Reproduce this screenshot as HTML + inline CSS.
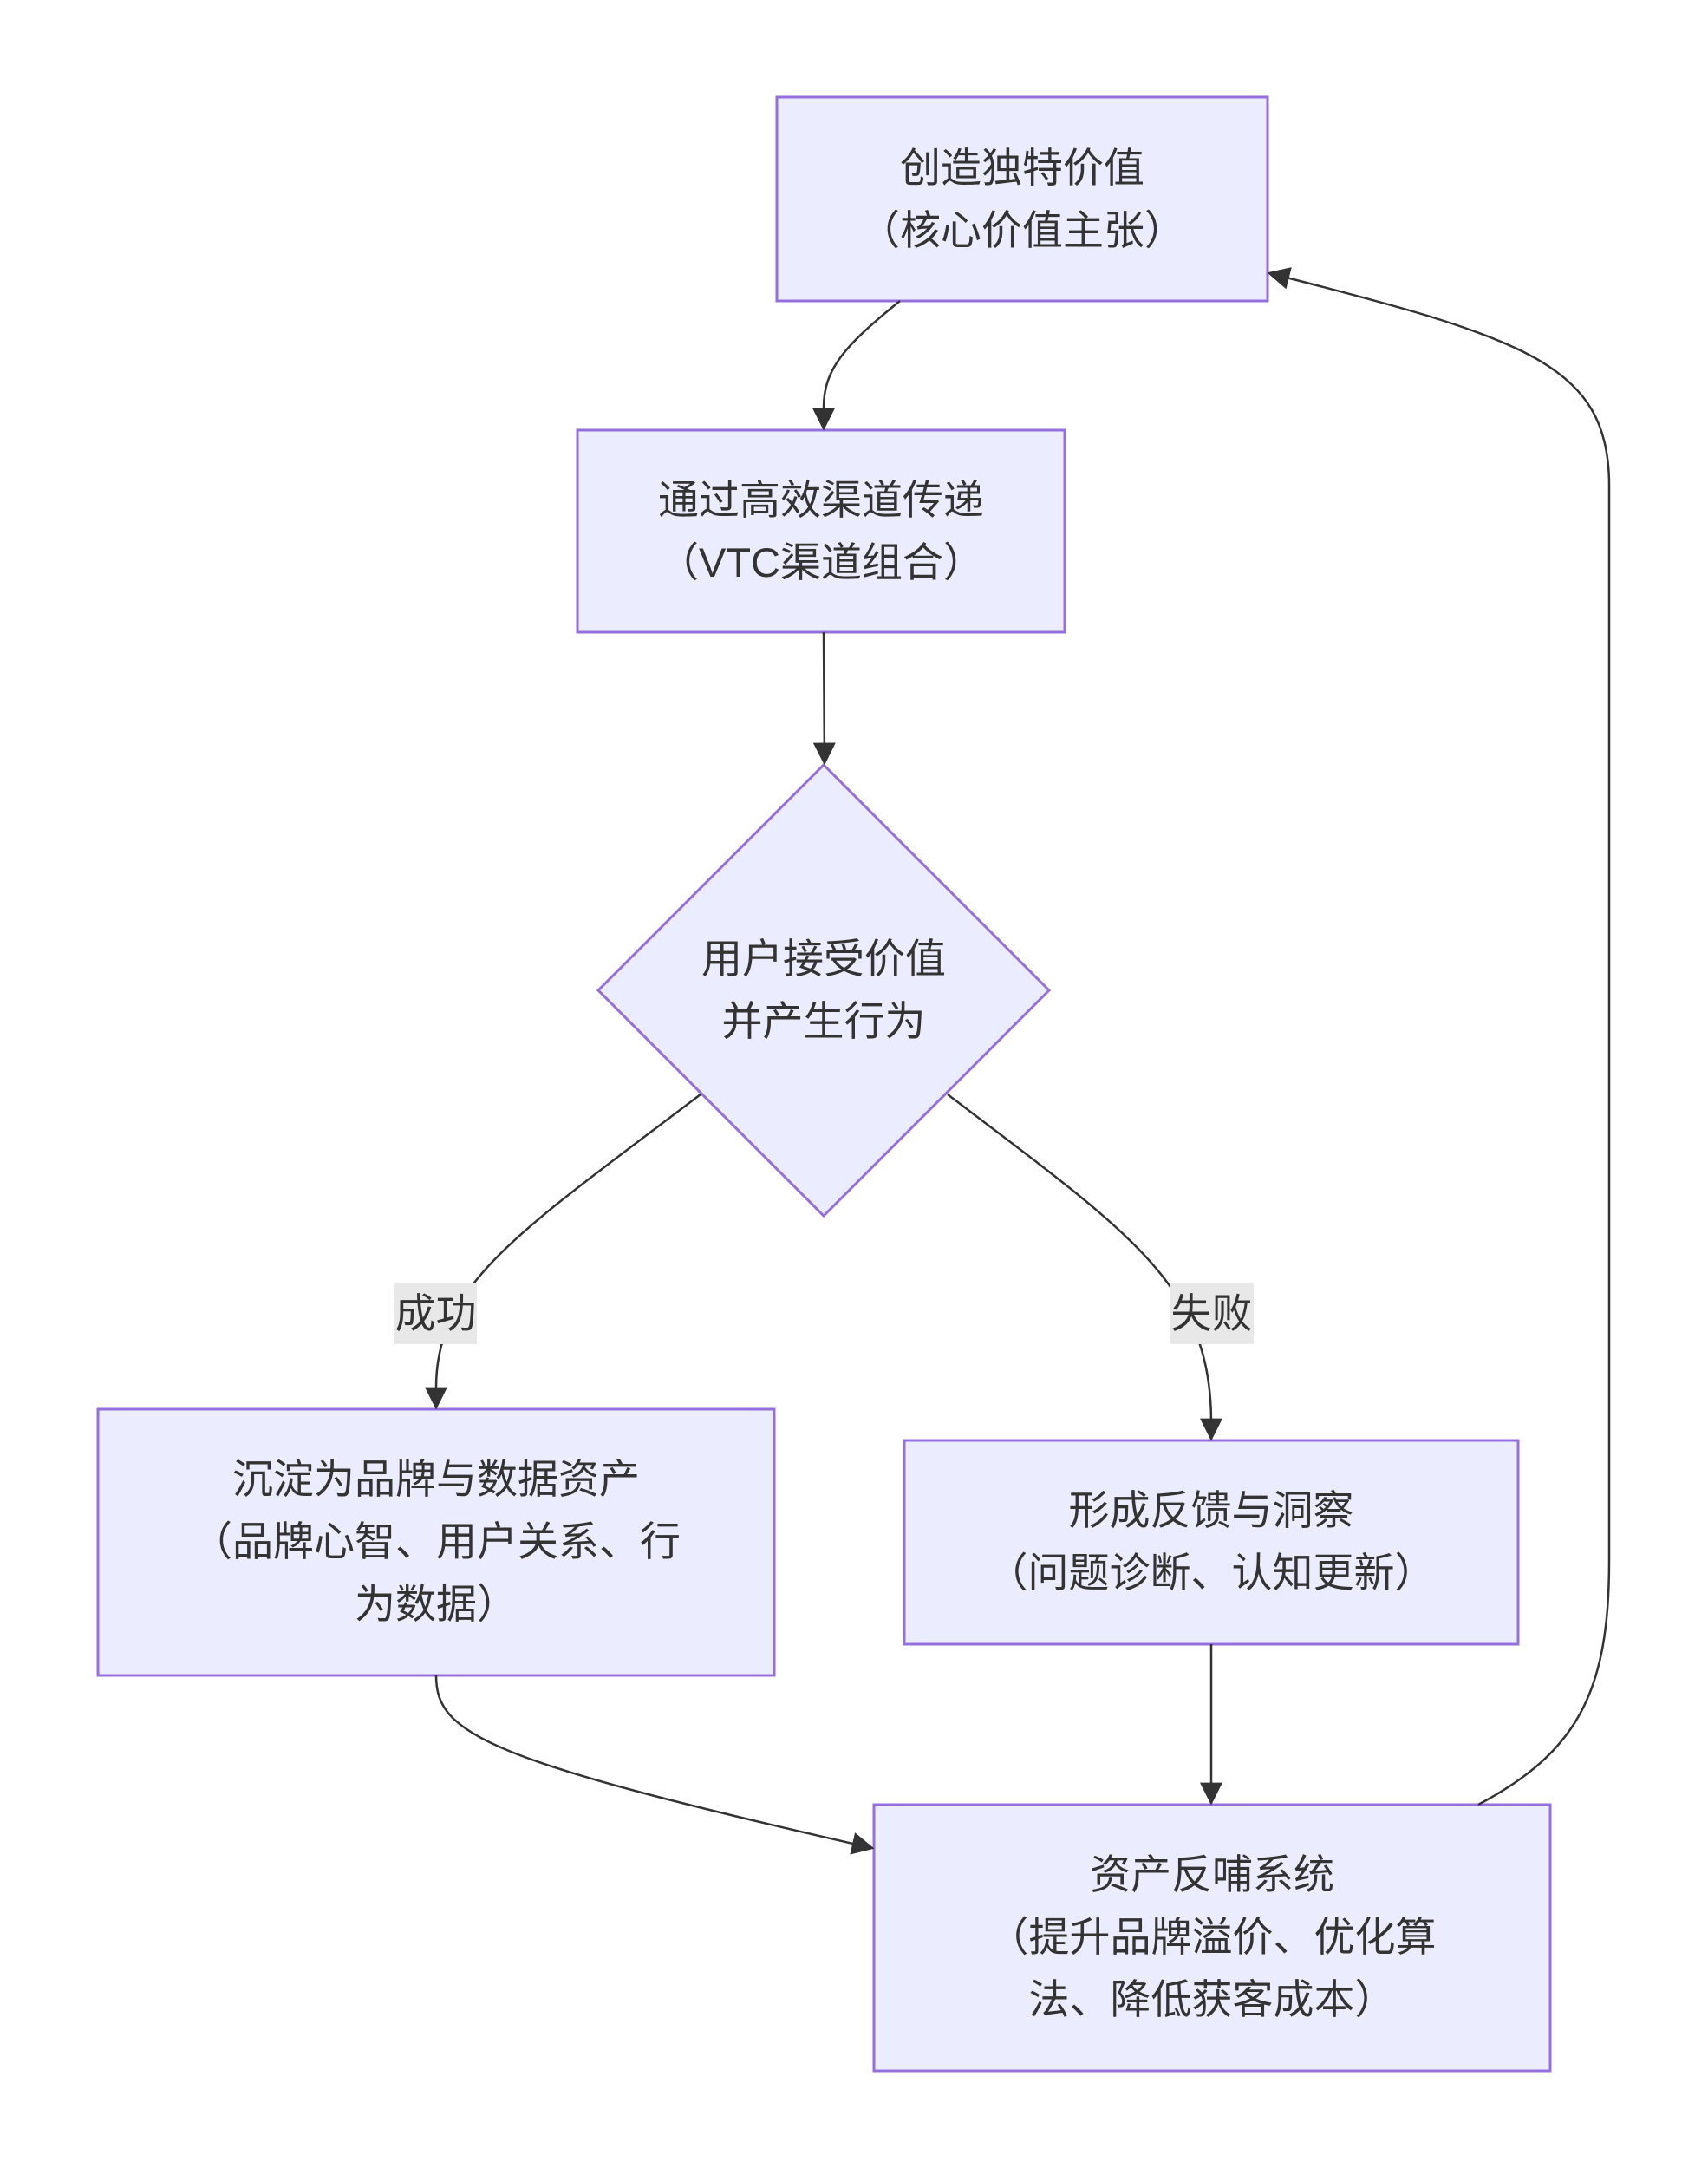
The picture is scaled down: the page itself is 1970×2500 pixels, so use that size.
<!DOCTYPE html>
<html><head><meta charset="utf-8"><style>
html,body{margin:0;padding:0;background:#fff;}
body{width:1970px;height:2500px;position:relative;overflow:hidden;font-family:"Liberation Sans","Noto Sans CJK SC",sans-serif;}
.t{position:absolute;text-align:center;font-size:47px;line-height:72px;color:#333;white-space:nowrap;}
.lb{position:absolute;background:#e8e8e8;font-size:47px;line-height:70px;color:#333;text-align:center;}
</style></head><body>
<svg width="1970" height="2500" style="position:absolute;left:0;top:0">
<defs><marker id="b" viewBox="0 0 10 10" refX="9" refY="5" markerWidth="26" markerHeight="26" markerUnits="userSpaceOnUse" orient="auto"><path d="M0,0L10,5L0,10z" fill="#333"/></marker></defs>
<g fill="#ECECFF" stroke="#9370DB" stroke-width="3">
<rect x="896" y="112" width="566" height="235"/>
<rect x="666" y="496" width="562" height="233"/>
<polygon points="950,882 1210,1142 950,1402 690,1142"/>
<rect x="113" y="1625" width="780" height="307"/>
<rect x="1043" y="1661" width="708" height="235"/>
<rect x="1008" y="2081" width="780" height="307"/>
</g>
<g fill="none" stroke="#333" stroke-width="2.5" marker-end="url(#b)">
<path d="M1038,347 C 975,398 950,425 950,470 L950,494"/>
<path d="M950,729 L951,880"/>
<path d="M808,1262 C 600,1420 503,1480 503,1600 L503,1623"/>
<path d="M1093,1262 C 1300,1420 1397,1480 1397,1640 L1397,1659"/>
<path d="M503,1932 C 503,2000 560,2030 1006,2131"/>
<path d="M1397,1896 L1397,2079"/>
<path d="M1705,2081 C 1820,2020 1856,1950 1856,1800 L1856,560 C 1856,420 1760,390 1464,315"/>
</g>
</svg>
<div class="t" style="left:896px;width:566px;top:158px">创造独特价值<br>（核心价值主张）</div>
<div class="t" style="left:666px;width:562px;top:541px">通过高效渠道传递<br>（VTC渠道组合）</div>
<div class="t" style="left:690px;width:520px;top:1070px">用户接受价值<br>并产生行为</div>
<div class="t" style="left:113px;width:780px;top:1670px">沉淀为品牌与数据资产<br>（品牌心智、用户关系、行<br>为数据）</div>
<div class="t" style="left:1043px;width:708px;top:1706px">形成反馈与洞察<br>（问题诊断、认知更新）</div>
<div class="t" style="left:1008px;width:780px;top:2126px">资产反哺系统<br>（提升品牌溢价、优化算<br>法、降低获客成本）</div>
<div class="lb" style="left:455px;top:1480px;width:95px">成功</div>
<div class="lb" style="left:1349px;top:1480px;width:97px">失败</div>
</body></html>
